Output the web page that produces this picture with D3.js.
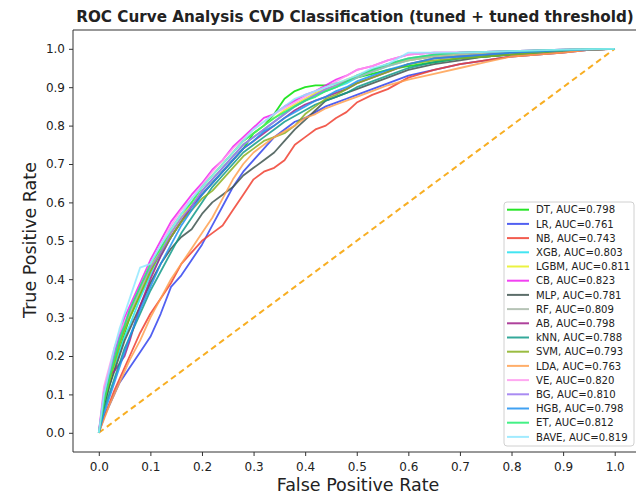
<!DOCTYPE html>
<html>
<head>
  <meta charset="utf-8">
  <script src="https://d3js.org/d3.v7.min.js"></script>
  <style>
    body { margin: 0; background: #fff; }
    svg text { font-family: "DejaVu Sans", sans-serif; fill: #222; }
    .axis .domain { display: none; }
    .axis line { stroke: #333; }
  </style>
</head>
<body>
  <svg id="roc" width="636" height="494"></svg>

  <script>
    // shared false positive rate grid
    const fpr = [0, .01, .02, .03, .04, .05, .06, .08, .10, .12, .14, .16, .18, .20, .22, .24, .26, .28, .30, .32,
      .34, .36, .38, .40, .42, .44, .46, .48, .50, .53, .56, .60, .65, .70, .75, .80, .85, .90, .95, 1.0];

    const models = ["DT", "LR", "NB", "XGB", "LGBM", "CB", "MLP", "RF", "AB", "kNN", "SVM", "LDA", "VE", "BG", "HGB", "ET", "BAVE"];
    const aucs = [0.798, 0.761, 0.743, 0.803, 0.811, 0.823, 0.781, 0.809, 0.798, 0.788, 0.793, 0.763, 0.820, 0.810, 0.798, 0.812, 0.819];
    const colors = ["#00e000", "#3344ee", "#f04030", "#22e0f0", "#e8f020", "#f020f0", "#3f5550", "#a9b8a9", "#a0208a",
      "#119a88", "#88b020", "#ffa050", "#ff99ee", "#9a77f0", "#1e90f0", "#22ee70", "#90e8ff"];

    // true positive rates, one row per model
    const tprDT   = [0,.07,.12,.17,.22,.26,.30,.36,.42,.47,.51,.55,.59,.62,.65,.68,.71,.74,.78,.80,.83,.87,.89,.90,.905,.905,.91,.915,.925,.935,.945,.955,.965,.975,.98,.985,.99,.995,.998,1];
    const tprLR   = [0,.04,.07,.10,.13,.15,.17,.21,.25,.31,.38,.41,.45,.49,.54,.59,.64,.68,.71,.74,.77,.79,.81,.82,.835,.85,.86,.87,.88,.895,.91,.93,.945,.96,.97,.98,.985,.99,.997,1];
    const tprNB   = [0,.04,.075,.11,.14,.17,.20,.26,.31,.35,.39,.44,.47,.50,.52,.54,.58,.62,.66,.68,.69,.71,.75,.77,.79,.80,.82,.835,.86,.88,.895,.925,.945,.96,.97,.98,.985,.99,.997,1];
    const tprXGB  = [0,.07,.12,.17,.21,.25,.28,.35,.41,.46,.51,.55,.59,.63,.66,.69,.72,.75,.77,.79,.81,.83,.85,.865,.88,.89,.90,.91,.925,.94,.955,.97,.98,.985,.99,.993,.995,.997,.999,1];
    const tprLGBM = [0,.08,.13,.18,.23,.27,.31,.37,.43,.48,.52,.56,.60,.64,.67,.70,.73,.76,.78,.80,.82,.84,.855,.87,.885,.895,.905,.92,.93,.945,.96,.97,.98,.985,.99,.993,.995,.997,.999,1];
    const tprCB   = [0,.11,.16,.21,.25,.30,.33,.39,.45,.50,.55,.585,.62,.65,.685,.71,.745,.77,.795,.82,.83,.85,.865,.88,.89,.905,.92,.93,.945,.955,.97,.985,.99,.99,.992,.994,.996,.998,.999,1];
    const tprMLP  = [0,.07,.12,.16,.20,.24,.27,.33,.39,.44,.48,.51,.53,.57,.60,.62,.64,.67,.69,.71,.73,.76,.79,.815,.84,.865,.875,.885,.895,.91,.925,.945,.96,.97,.98,.985,.99,.995,.998,1];
    const tprRF   = [0,.09,.14,.19,.23,.27,.31,.37,.42,.47,.51,.55,.59,.63,.66,.69,.72,.75,.77,.79,.81,.83,.85,.865,.88,.89,.90,.915,.925,.94,.955,.97,.98,.985,.99,.993,.995,.997,.999,1];
    const tprAB   = [0,.09,.15,.16,.18,.20,.24,.33,.40,.46,.51,.55,.59,.62,.65,.68,.71,.74,.76,.78,.80,.82,.84,.855,.865,.875,.885,.895,.91,.925,.94,.96,.975,.98,.985,.99,.993,.996,.998,1];
    const tprKNN  = [0,.06,.10,.14,.18,.22,.25,.31,.37,.42,.47,.52,.56,.60,.64,.67,.70,.73,.75,.77,.79,.81,.825,.84,.855,.865,.875,.885,.90,.915,.93,.95,.965,.975,.98,.985,.99,.995,.998,1];
    const tprSVM  = [0,.08,.13,.18,.23,.27,.30,.36,.42,.47,.51,.55,.58,.61,.63,.66,.69,.72,.74,.76,.77,.78,.80,.83,.85,.87,.88,.895,.91,.925,.94,.96,.97,.975,.98,.985,.99,.995,.998,1];
    const tprLDA  = [0,.035,.07,.10,.13,.16,.19,.24,.30,.35,.40,.44,.48,.52,.56,.61,.66,.70,.73,.75,.77,.785,.80,.82,.83,.845,.855,.865,.875,.89,.905,.92,.935,.95,.965,.98,.985,.99,.997,1];
    const tprVE   = [0,.12,.17,.22,.26,.29,.32,.38,.44,.49,.54,.58,.61,.645,.68,.71,.74,.765,.79,.81,.83,.845,.86,.875,.89,.90,.915,.93,.945,.955,.97,.985,.99,.99,.992,.994,.996,.998,.999,1];
    const tprBG   = [0,.10,.15,.20,.25,.28,.32,.38,.43,.47,.52,.56,.59,.63,.66,.69,.72,.75,.77,.79,.81,.83,.85,.865,.88,.895,.905,.915,.93,.945,.96,.975,.985,.99,.992,.994,.996,.998,.999,1];
    const tprHGB  = [0,.05,.09,.13,.17,.21,.25,.32,.38,.44,.49,.54,.58,.62,.65,.68,.71,.74,.76,.785,.80,.82,.835,.85,.865,.875,.89,.90,.915,.93,.945,.96,.975,.98,.985,.99,.993,.996,.998,1];
    const tprET   = [0,.08,.14,.19,.24,.28,.32,.38,.44,.48,.53,.57,.60,.64,.67,.70,.73,.76,.78,.80,.82,.835,.85,.865,.875,.89,.90,.915,.93,.945,.96,.975,.985,.99,.992,.994,.996,.998,.999,1];
    const tprBAVE = [0,.10,.16,.22,.27,.31,.35,.43,.44,.49,.53,.57,.61,.64,.67,.70,.73,.76,.79,.81,.83,.85,.87,.88,.89,.90,.91,.92,.93,.95,.96,.99,.99,.99,.992,.994,.996,.998,.999,1];

    const tprs = [tprDT, tprLR, tprNB, tprXGB, tprLGBM, tprCB, tprMLP, tprRF, tprAB, tprKNN, tprSVM, tprLDA, tprVE, tprBG, tprHGB, tprET, tprBAVE];

    const xTicks = d3.range(0, 11).map(i => i / 10);
    const yTicks = d3.range(0, 11).map(i => i / 10);

    const svg = d3.select("svg#roc");

    // axes run from -0.05 to 1.05, the right edge falls outside the picture
    const x = d3.scaleLinear().domain([-0.05, 1.05]).range([73, 640.5]);
    const y = d3.scaleLinear().domain([-0.05, 1.05]).range([452, 29.6]);

    // diagonal reference
    svg.append("line")
      .attr("x1", x(0)).attr("y1", y(0))
      .attr("x2", x(1)).attr("y2", y(1))
      .attr("stroke", "#f8ae22")
      .attr("stroke-width", 2)
      .attr("stroke-dasharray", "6,4");

    const line = d3.line().x(d => x(d[0])).y(d => y(d[1]));

    svg.append("g").selectAll("path.roc")
      .data(models)
      .join("path")
      .attr("class", "roc")
      .attr("fill", "none")
      .attr("stroke", (d, i) => colors[i])
      .attr("stroke-opacity", 0.85)
      .attr("stroke-width", 1.8)
      .attr("stroke-linejoin", "round")
      .attr("d", (d, i) => line(fpr.map((f, j) => [f, tprs[i][j]])));

    // spines
    svg.append("line").attr("x1", 73).attr("x2", 636).attr("y1", 30).attr("y2", 30).attr("stroke", "#333");
    svg.append("line").attr("x1", 73).attr("x2", 636).attr("y1", 452).attr("y2", 452).attr("stroke", "#333");
    svg.append("line").attr("x1", 73).attr("x2", 73).attr("y1", 30).attr("y2", 452).attr("stroke", "#333");

    svg.append("g")
      .attr("class", "x axis")
      .attr("transform", "translate(0,452)")
      .call(d3.axisBottom(x).tickValues(xTicks).tickFormat(d3.format(".1f")).tickSizeOuter(0).tickSize(4).tickPadding(6))
      .selectAll("text").attr("font-size", 12).style("font-family", "DejaVu Sans").attr("fill", "#222");

    svg.append("g")
      .attr("class", "y axis")
      .attr("transform", "translate(73,0)")
      .call(d3.axisLeft(y).tickValues(yTicks).tickFormat(d3.format(".1f")).tickSizeOuter(0).tickSize(4).tickPadding(4))
      .selectAll("text").attr("font-size", 12).style("font-family", "DejaVu Sans").attr("fill", "#222");

    // title and axis labels
    svg.append("text")
      .attr("x", 355).attr("y", 22)
      .attr("text-anchor", "middle")
      .attr("font-size", 15.2)
      .attr("font-weight", "bold")
      .text("ROC Curve Analysis CVD Classification (tuned + tuned threshold)");

    svg.append("text")
      .attr("x", 358).attr("y", 491)
      .attr("text-anchor", "middle")
      .attr("font-size", 17.5)
      .text("False Positive Rate");

    svg.append("text")
      .attr("transform", "translate(36,240) rotate(-90)")
      .attr("text-anchor", "middle")
      .attr("font-size", 17.5)
      .text("True Positive Rate");

    // legend
    const legend = svg.append("g").attr("class", "legend");
    legend.append("rect")
      .attr("x", 504).attr("y", 202)
      .attr("width", 130).attr("height", 244)
      .attr("rx", 3)
      .attr("fill", "#fff").attr("fill-opacity", 0.85)
      .attr("stroke", "#d0d0d0");

    const rows = legend.selectAll("g.row").data(models).join("g")
      .attr("class", "row")
      .attr("transform", (d, i) => `translate(0,${209.7 + i * 14.2})`);
    rows.append("line")
      .attr("x1", 507).attr("x2", 529)
      .attr("stroke", (d, i) => colors[i])
      .attr("stroke-opacity", 0.85)
      .attr("stroke-width", 2);
    rows.append("text")
      .attr("x", 536).attr("y", 3.6)
      .attr("font-size", 10.1)
      .text((d, i) => `${d}, AUC=${aucs[i].toFixed(3)}`);
  </script>
</body>
</html>
